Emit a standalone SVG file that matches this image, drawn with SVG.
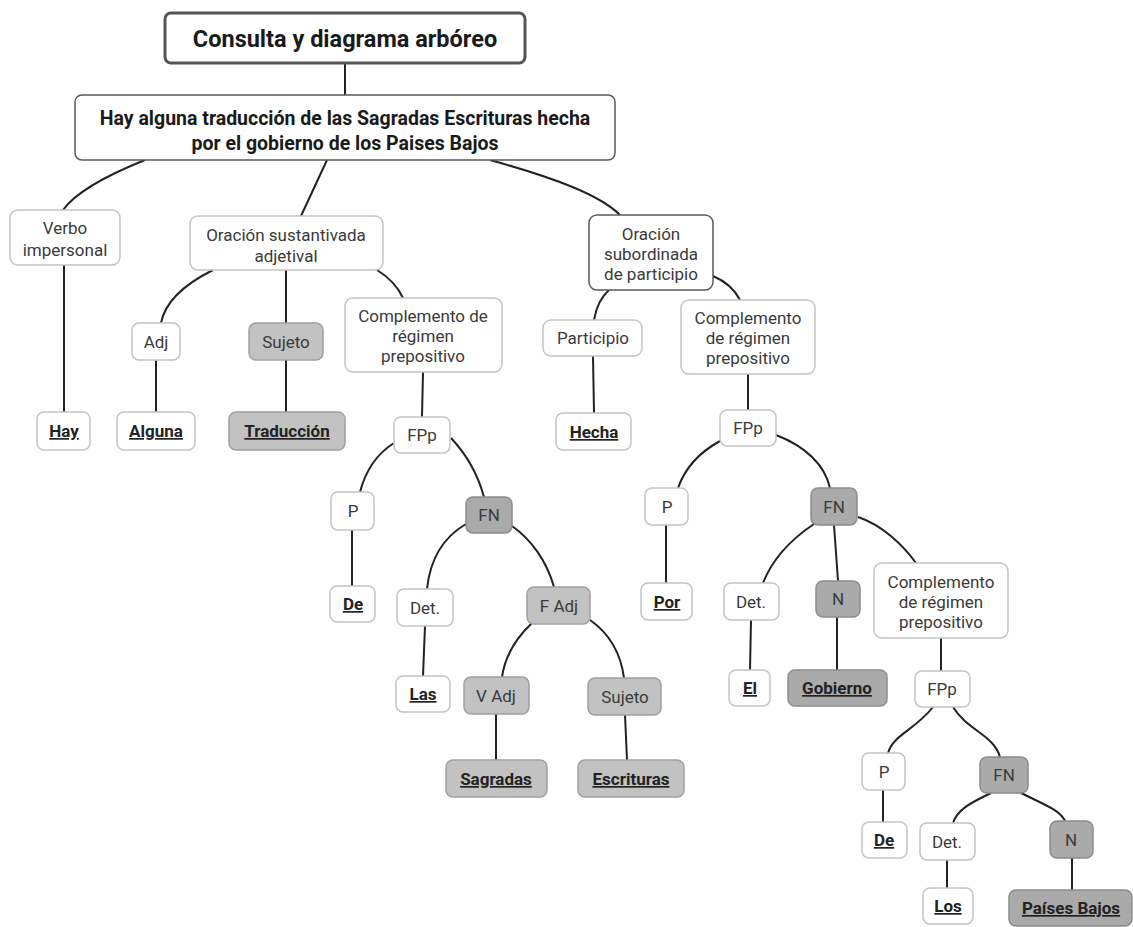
<svg xmlns="http://www.w3.org/2000/svg" width="1133" height="927" viewBox="0 0 1133 927">
  <style>
    .bg { fill: #ffffff; }
    .box { fill: #ffffff; stroke: #c4c4c4; stroke-width: 1.5; }
    .dark { fill: #ffffff; stroke: #5a5a5a; stroke-width: 1.5; }
    .root { fill: #ffffff; stroke: #555555; stroke-width: 3; }
    .g1 { fill: #c2c2c2; stroke: #a0a0a0; stroke-width: 1.5; }
    .g2 { fill: #aaaaaa; stroke: #8c8c8c; stroke-width: 1.5; }
    .t { font-family: Roboto, "Liberation Sans", sans-serif; font-size: 17px; fill: #3a3a3a; text-anchor: middle; }
    .w { font-family: Roboto, "Liberation Sans", sans-serif; font-size: 17px; font-weight: bold; fill: #222222; text-anchor: middle; text-decoration: underline; }
    .h1 { font-family: Roboto, "Liberation Sans", sans-serif; font-size: 23.5px; font-weight: bold; fill: #1a1a1a; text-anchor: middle; }
    .h2 { font-family: Roboto, "Liberation Sans", sans-serif; font-size: 19.5px; font-weight: bold; fill: #1a1a1a; text-anchor: middle; }
    .edges path { fill: none; stroke: #222222; stroke-width: 2; }
  </style>
  <rect class="bg" width="1133" height="927"/>

  <g class="edges" id="connectors">
    <path d="M345,63 L345,95"/>
    <path d="M145,160 C105,176 76,192 63,210"/>
    <path d="M327,160 L301,216"/>
    <path d="M490,160 C555,178 600,195 620,215"/>
    <path d="M64,265 L64,412"/>
    <path d="M213,270 C185,284 165,302 161,323"/>
    <path d="M286,270 L286,323"/>
    <path d="M377,270 C390,278 398,287 403,298"/>
    <path d="M156,360 L156,412"/>
    <path d="M286,360 L286,412"/>
    <path d="M423,372 L422,417"/>
    <path d="M609,290 C600,298 596,308 594,320"/>
    <path d="M713,276 C727,282 735,290 740,300"/>
    <path d="M593,356 L594,413"/>
    <path d="M748,374 L748,410"/>
    <path d="M394,443 C375,455 365,473 360,492"/>
    <path d="M451,438 C467,455 478,475 484,497"/>
    <path d="M352,530 L352,586"/>
    <path d="M466,524 C442,538 430,560 427,589"/>
    <path d="M512,526 C532,540 547,562 554,587"/>
    <path d="M425,626 L423,676"/>
    <path d="M532,623 C516,638 505,656 502,677"/>
    <path d="M590,620 C610,634 621,655 624,678"/>
    <path d="M496,714 L496,760"/>
    <path d="M625,715 L627,760"/>
    <path d="M720,441 C700,452 685,468 678,488"/>
    <path d="M776,435 C805,446 825,465 830,488"/>
    <path d="M666,525 L666,583"/>
    <path d="M814,524 C790,540 772,560 763,583"/>
    <path d="M834,525 L838,581"/>
    <path d="M858,517 C882,525 903,545 916,563"/>
    <path d="M751,620 L750,670"/>
    <path d="M837,617 L837,670"/>
    <path d="M941,638 L941,671"/>
    <path d="M933,707 C915,730 893,735 888,753"/>
    <path d="M953,707 C967,730 994,735 1000,757"/>
    <path d="M883,790 L883,822"/>
    <path d="M991,793 C970,803 957,810 953,823"/>
    <path d="M1021,793 C1045,805 1060,810 1065,821"/>
    <path d="M947,860 L947,888"/>
    <path d="M1072,858 L1072,890"/>
  </g>

  <g id="n-title">
    <rect class="root" x="165" y="13" width="360" height="50" rx="6"/>
    <text class="h1" x="345" y="47">Consulta y diagrama arbóreo</text>
  </g>
  <g id="n-oracion">
    <rect class="dark" x="75" y="95" width="540" height="65" rx="7"/>
    <text class="h2" x="345" y="125">Hay alguna traducción de las Sagradas Escrituras hecha</text>
    <text class="h2" x="345" y="150">por el gobierno de los Paises Bajos</text>
  </g>
  <g id="n-verbo">
    <rect class="box" x="10" y="210" width="110" height="55" rx="8"/>
    <text class="t" x="65" y="234">Verbo</text>
    <text class="t" x="65" y="256">impersonal</text>
  </g>
  <g id="n-sustantivada">
    <rect class="box" x="190" y="216" width="193" height="54" rx="8"/>
    <text class="t" x="286" y="241">Oración sustantivada</text>
    <text class="t" x="286" y="262">adjetival</text>
  </g>
  <g id="n-subordinada">
    <rect class="dark" x="589" y="215" width="124" height="75" rx="8"/>
    <text class="t" x="651" y="240">Oración</text>
    <text class="t" x="651" y="260">subordinada</text>
    <text class="t" x="651" y="280">de participio</text>
  </g>
  <g id="n-adj">
    <rect class="box" x="132" y="323" width="48" height="37" rx="7"/>
    <text class="t" x="156" y="348">Adj</text>
  </g>
  <g id="n-sujeto1">
    <rect class="g1" x="249" y="323" width="74" height="37" rx="7"/>
    <text class="t" x="286" y="348">Sujeto</text>
  </g>
  <g id="n-crp1">
    <rect class="box" x="345" y="298" width="157" height="74" rx="8"/>
    <text class="t" x="423" y="322">Complemento de</text>
    <text class="t" x="423" y="342">régimen</text>
    <text class="t" x="423" y="362">prepositivo</text>
  </g>
  <g id="n-participio">
    <rect class="box" x="543" y="320" width="99" height="36" rx="8"/>
    <text class="t" x="593" y="344">Participio</text>
  </g>
  <g id="n-crp2">
    <rect class="box" x="681" y="300" width="134" height="74" rx="8"/>
    <text class="t" x="748" y="324">Complemento</text>
    <text class="t" x="748" y="344">de régimen</text>
    <text class="t" x="748" y="364">prepositivo</text>
  </g>
  <g id="n-hay">
    <rect class="box" x="37" y="412" width="53" height="38" rx="7"/>
    <text class="w" x="64" y="437">Hay</text>
  </g>
  <g id="n-alguna">
    <rect class="box" x="117" y="412" width="78" height="38" rx="7"/>
    <text class="w" x="156" y="437">Alguna</text>
  </g>
  <g id="n-traduccion">
    <rect class="g1" x="229" y="412" width="116" height="38" rx="7"/>
    <text class="w" x="287" y="437">Traducción</text>
  </g>
  <g id="n-fpp1">
    <rect class="box" x="394" y="417" width="56" height="36" rx="7"/>
    <text class="t" x="422" y="441">FPp</text>
  </g>
  <g id="n-hecha">
    <rect class="box" x="556" y="413" width="75" height="37" rx="7"/>
    <text class="w" x="594" y="438">Hecha</text>
  </g>
  <g id="n-fpp2">
    <rect class="box" x="720" y="410" width="56" height="36" rx="7"/>
    <text class="t" x="748" y="434">FPp</text>
  </g>
  <g id="n-p1">
    <rect class="box" x="331" y="492" width="43" height="38" rx="7"/>
    <text class="t" x="353" y="517">P</text>
  </g>
  <g id="n-fn1">
    <rect class="g2" x="466" y="497" width="46" height="36" rx="7"/>
    <text class="t" x="489" y="521">FN</text>
  </g>
  <g id="n-p2">
    <rect class="box" x="645" y="488" width="43" height="37" rx="7"/>
    <text class="t" x="667" y="513">P</text>
  </g>
  <g id="n-fn2">
    <rect class="g2" x="811" y="488" width="46" height="37" rx="7"/>
    <text class="t" x="834" y="513">FN</text>
  </g>
  <g id="n-de1">
    <rect class="box" x="330" y="586" width="45" height="36" rx="7"/>
    <text class="w" x="353" y="610">De</text>
  </g>
  <g id="n-det1">
    <rect class="box" x="397" y="589" width="56" height="37" rx="7"/>
    <text class="t" x="425" y="614">Det.</text>
  </g>
  <g id="n-fadj">
    <rect class="g1" x="527" y="587" width="63" height="37" rx="7"/>
    <text class="t" x="559" y="612">F Adj</text>
  </g>
  <g id="n-por">
    <rect class="box" x="641" y="583" width="51" height="37" rx="7"/>
    <text class="w" x="667" y="608">Por</text>
  </g>
  <g id="n-det2">
    <rect class="box" x="724" y="583" width="55" height="37" rx="7"/>
    <text class="t" x="751" y="608">Det.</text>
  </g>
  <g id="n-n1">
    <rect class="g2" x="816" y="581" width="44" height="36" rx="7"/>
    <text class="t" x="838" y="605">N</text>
  </g>
  <g id="n-crp3">
    <rect class="box" x="874" y="563" width="134" height="75" rx="8"/>
    <text class="t" x="941" y="588">Complemento</text>
    <text class="t" x="941" y="608">de régimen</text>
    <text class="t" x="941" y="628">prepositivo</text>
  </g>
  <g id="n-las">
    <rect class="box" x="396" y="676" width="54" height="36" rx="7"/>
    <text class="w" x="423" y="700">Las</text>
  </g>
  <g id="n-vadj">
    <rect class="g1" x="464" y="677" width="65" height="37" rx="7"/>
    <text class="t" x="496" y="702">V Adj</text>
  </g>
  <g id="n-sujeto2">
    <rect class="g1" x="588" y="678" width="73" height="37" rx="7"/>
    <text class="t" x="625" y="703">Sujeto</text>
  </g>
  <g id="n-el">
    <rect class="box" x="729" y="670" width="41" height="36" rx="7"/>
    <text class="w" x="750" y="694">El</text>
  </g>
  <g id="n-gobierno">
    <rect class="g2" x="788" y="670" width="99" height="36" rx="7"/>
    <text class="w" x="837" y="694">Gobierno</text>
  </g>
  <g id="n-fpp3">
    <rect class="box" x="915" y="671" width="55" height="36" rx="7"/>
    <text class="t" x="942" y="695">FPp</text>
  </g>
  <g id="n-sagradas">
    <rect class="g1" x="446" y="760" width="101" height="37" rx="7"/>
    <text class="w" x="496" y="785">Sagradas</text>
  </g>
  <g id="n-escrituras">
    <rect class="g1" x="578" y="760" width="106" height="37" rx="7"/>
    <text class="w" x="631" y="785">Escrituras</text>
  </g>
  <g id="n-p3">
    <rect class="box" x="862" y="753" width="43" height="37" rx="7"/>
    <text class="t" x="884" y="778">P</text>
  </g>
  <g id="n-fn3">
    <rect class="g2" x="980" y="757" width="48" height="36" rx="7"/>
    <text class="t" x="1004" y="781">FN</text>
  </g>
  <g id="n-de2">
    <rect class="box" x="862" y="822" width="45" height="36" rx="7"/>
    <text class="w" x="884" y="846">De</text>
  </g>
  <g id="n-det3">
    <rect class="box" x="920" y="823" width="55" height="37" rx="7"/>
    <text class="t" x="947" y="848">Det.</text>
  </g>
  <g id="n-n2">
    <rect class="g2" x="1050" y="821" width="43" height="37" rx="7"/>
    <text class="t" x="1071" y="846">N</text>
  </g>
  <g id="n-los">
    <rect class="box" x="923" y="888" width="50" height="36" rx="7"/>
    <text class="w" x="948" y="912">Los</text>
  </g>
  <g id="n-paises">
    <rect class="g2" x="1009" y="890" width="123" height="36" rx="7"/>
    <text class="w" x="1071" y="914">Países Bajos</text>
  </g>
</svg>
